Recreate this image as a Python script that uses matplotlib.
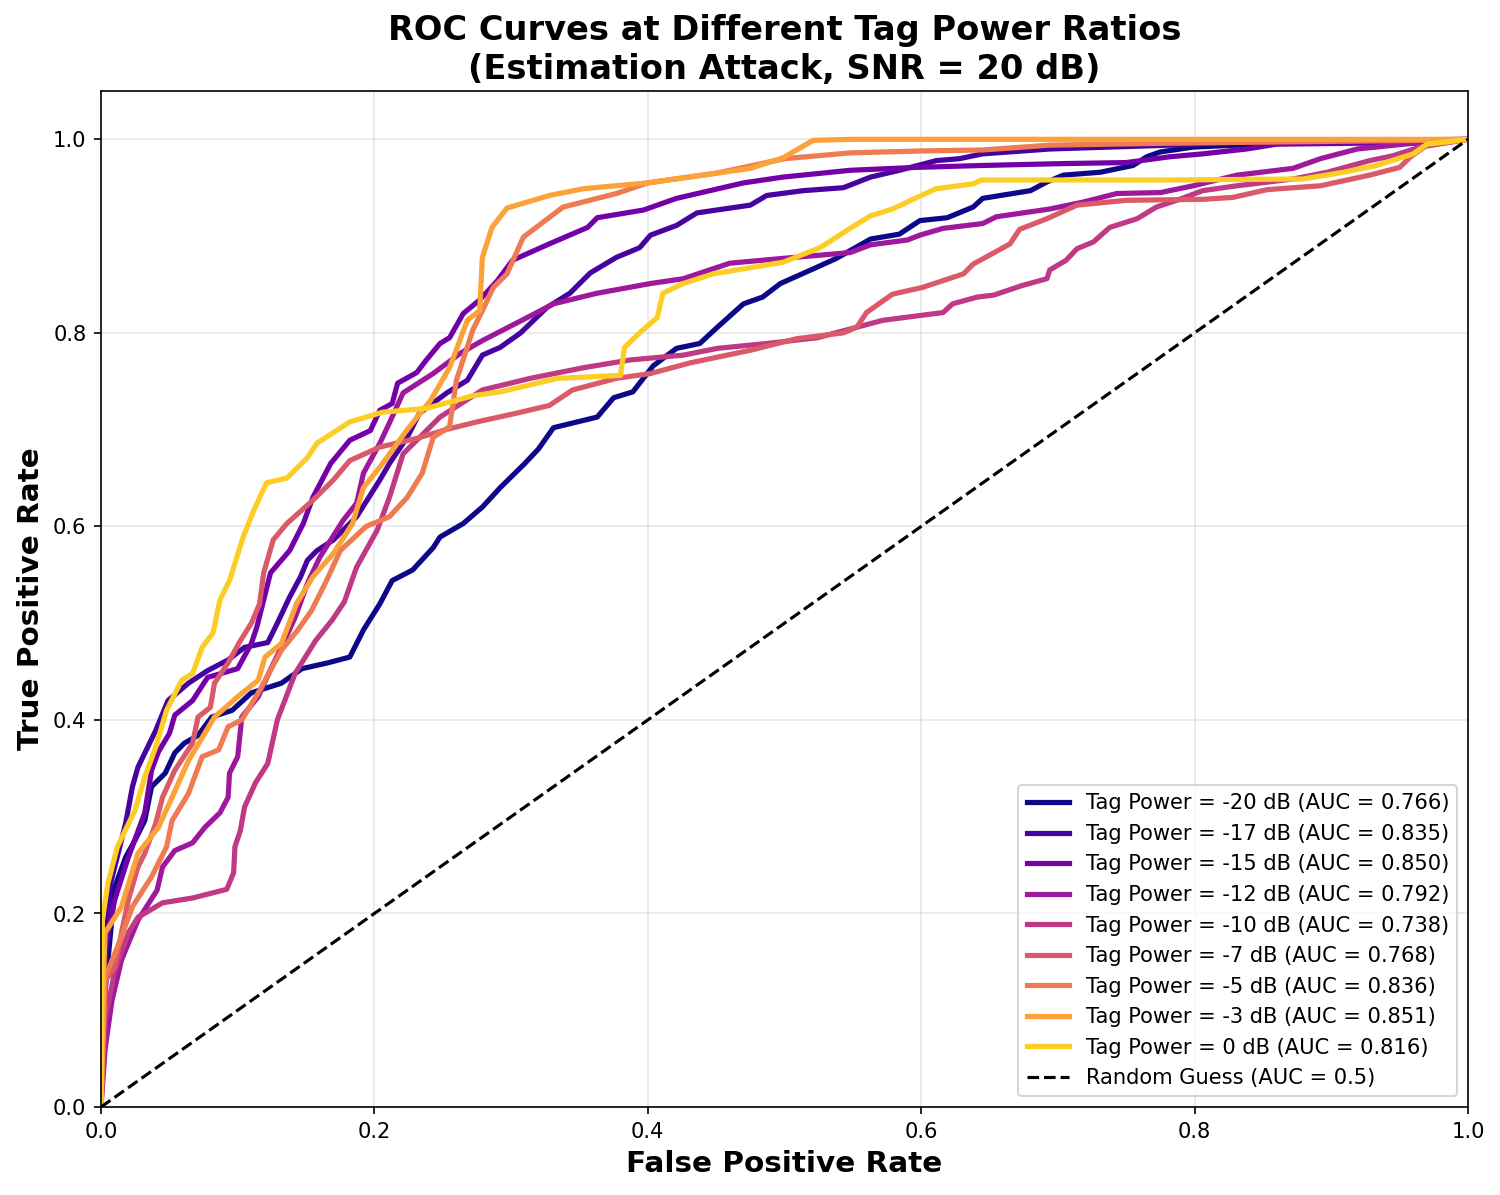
import numpy as np
import matplotlib
matplotlib.use('Agg')
import matplotlib.pyplot as plt

#tag power levels and auc from the legend
powers = [-20, -17, -15, -12, -10, -7, -5, -3, 0]
aucs = ['0.766', '0.835', '0.850', '0.792', '0.738', '0.768', '0.836', '0.851', '0.816']

#curves
fpr_m20 = [0,0.001,0.003,0.007,0.01,0.018,0.025,0.032,0.037,0.047,0.054,0.061,0.071,0.081,0.096,0.11,0.132,0.147,0.166,0.182,0.192,0.204,0.213,0.228,0.243,0.248,0.265,0.279,0.292,0.31,0.32,0.331,0.363,0.375,0.389,0.404,0.421,0.438,0.451,0.47,0.484,0.497,0.524,0.538,0.548,0.563,0.584,0.599,0.619,0.638,0.645,0.68,0.692,0.704,0.731,0.755,0.765,0.775,0.799,0.831,0.86,0.97,1]
tpr_m20 = [0,0.046,0.12,0.18,0.227,0.258,0.276,0.296,0.331,0.345,0.366,0.376,0.384,0.403,0.41,0.428,0.438,0.453,0.459,0.465,0.493,0.52,0.544,0.555,0.578,0.589,0.603,0.62,0.64,0.665,0.68,0.702,0.713,0.733,0.739,0.766,0.784,0.789,0.806,0.83,0.837,0.851,0.868,0.877,0.885,0.897,0.902,0.916,0.919,0.93,0.939,0.947,0.956,0.963,0.966,0.973,0.982,0.987,0.992,0.994,0.996,0.999,1]

fpr_m17 = [0,0.002,0.004,0.007,0.018,0.023,0.027,0.04,0.049,0.064,0.078,0.093,0.105,0.122,0.129,0.138,0.146,0.151,0.158,0.17,0.187,0.204,0.211,0.224,0.233,0.253,0.268,0.279,0.292,0.307,0.326,0.343,0.358,0.377,0.394,0.402,0.421,0.436,0.475,0.487,0.514,0.543,0.563,0.584,0.611,0.628,0.645,0.694,0.782,0.85,1]
tpr_m17 = [0,0.12,0.18,0.231,0.293,0.331,0.351,0.389,0.42,0.438,0.451,0.462,0.475,0.48,0.5,0.527,0.548,0.565,0.575,0.586,0.61,0.648,0.665,0.692,0.717,0.738,0.751,0.777,0.785,0.8,0.826,0.841,0.862,0.878,0.888,0.901,0.911,0.924,0.932,0.942,0.947,0.95,0.961,0.968,0.978,0.98,0.985,0.99,0.994,0.998,1]

fpr_m15 = [0,0.003,0.01,0.02,0.032,0.037,0.042,0.05,0.054,0.067,0.078,0.1,0.11,0.114,0.124,0.138,0.148,0.155,0.168,0.182,0.197,0.204,0.213,0.217,0.231,0.238,0.248,0.255,0.265,0.277,0.29,0.301,0.328,0.356,0.363,0.397,0.421,0.47,0.499,0.548,0.596,0.645,0.706,0.75,0.782,0.806,0.838,0.86,0.921,0.97,1]
tpr_m15 = [0,0.162,0.214,0.258,0.304,0.348,0.367,0.386,0.405,0.42,0.444,0.453,0.479,0.496,0.552,0.575,0.603,0.63,0.665,0.689,0.699,0.72,0.727,0.748,0.759,0.772,0.789,0.795,0.82,0.834,0.854,0.875,0.892,0.909,0.919,0.927,0.939,0.955,0.961,0.968,0.971,0.973,0.975,0.976,0.982,0.985,0.99,0.995,0.996,0.996,1]

fpr_m12 = [0,0.003,0.008,0.015,0.027,0.041,0.045,0.054,0.067,0.076,0.087,0.093,0.094,0.1,0.103,0.115,0.125,0.132,0.142,0.151,0.16,0.177,0.187,0.192,0.204,0.211,0.221,0.243,0.263,0.279,0.312,0.331,0.363,0.402,0.426,0.46,0.499,0.548,0.563,0.59,0.599,0.616,0.645,0.655,0.694,0.718,0.743,0.775,0.799,0.831,0.872,0.892,0.919,0.96,1]
tpr_m12 = [0,0.06,0.11,0.152,0.193,0.224,0.248,0.265,0.273,0.289,0.304,0.32,0.345,0.362,0.403,0.424,0.455,0.475,0.506,0.541,0.568,0.606,0.624,0.655,0.686,0.707,0.738,0.758,0.779,0.792,0.816,0.83,0.841,0.851,0.856,0.872,0.877,0.883,0.891,0.896,0.901,0.908,0.913,0.92,0.928,0.935,0.944,0.945,0.952,0.963,0.97,0.98,0.99,0.996,1]

fpr_m10 = [0,0.003,0.01,0.02,0.027,0.045,0.067,0.081,0.092,0.097,0.098,0.102,0.105,0.113,0.122,0.129,0.142,0.157,0.169,0.178,0.187,0.202,0.211,0.221,0.248,0.279,0.314,0.353,0.387,0.426,0.451,0.487,0.524,0.548,0.572,0.616,0.623,0.641,0.653,0.674,0.692,0.694,0.706,0.714,0.726,0.738,0.758,0.772,0.789,0.806,0.831,0.872,0.897,0.928,0.945,0.965,1]
tpr_m10 = [0,0.09,0.14,0.18,0.196,0.211,0.216,0.221,0.225,0.242,0.269,0.286,0.31,0.335,0.355,0.4,0.448,0.482,0.503,0.522,0.558,0.596,0.63,0.675,0.713,0.741,0.753,0.764,0.772,0.777,0.784,0.789,0.795,0.804,0.813,0.821,0.83,0.837,0.839,0.849,0.856,0.865,0.875,0.887,0.894,0.909,0.918,0.93,0.938,0.947,0.952,0.959,0.966,0.978,0.983,0.992,1]

fpr_m7 = [0,0.003,0.01,0.015,0.02,0.027,0.032,0.04,0.045,0.054,0.067,0.071,0.08,0.083,0.093,0.102,0.11,0.116,0.119,0.126,0.136,0.155,0.17,0.182,0.204,0.231,0.255,0.275,0.304,0.328,0.345,0.377,0.402,0.431,0.475,0.509,0.543,0.553,0.56,0.579,0.601,0.631,0.638,0.665,0.672,0.692,0.714,0.75,0.806,0.828,0.853,0.892,0.928,0.95,0.958,0.97,1]
tpr_m7 = [0,0.13,0.145,0.18,0.214,0.248,0.262,0.293,0.32,0.348,0.376,0.403,0.413,0.438,0.459,0.482,0.5,0.52,0.552,0.586,0.603,0.627,0.648,0.668,0.682,0.691,0.701,0.708,0.717,0.725,0.741,0.753,0.758,0.769,0.782,0.794,0.8,0.806,0.821,0.84,0.847,0.861,0.871,0.892,0.907,0.918,0.932,0.937,0.938,0.94,0.948,0.952,0.963,0.971,0.982,0.994,1]

fpr_m5 = [0,0.003,0.012,0.023,0.037,0.042,0.048,0.052,0.064,0.074,0.086,0.093,0.103,0.115,0.132,0.144,0.154,0.165,0.175,0.194,0.211,0.224,0.235,0.243,0.255,0.26,0.272,0.279,0.287,0.297,0.309,0.338,0.377,0.4,0.45,0.5,0.548,0.6,0.645,0.694,0.782,0.97,1]
tpr_m5 = [0,0.134,0.165,0.207,0.238,0.252,0.269,0.296,0.324,0.362,0.369,0.393,0.4,0.428,0.472,0.493,0.513,0.544,0.575,0.6,0.61,0.63,0.655,0.692,0.703,0.751,0.803,0.823,0.847,0.861,0.899,0.93,0.944,0.955,0.965,0.98,0.986,0.988,0.989,0.994,0.996,0.999,1]

fpr_m3 = [0,0.002,0.003,0.015,0.027,0.042,0.052,0.064,0.083,0.1,0.115,0.12,0.132,0.143,0.155,0.17,0.184,0.192,0.206,0.224,0.241,0.255,0.268,0.277,0.279,0.286,0.297,0.328,0.353,0.4,0.45,0.475,0.499,0.521,0.55,1]
tpr_m3 = [0,0.14,0.18,0.207,0.262,0.289,0.32,0.358,0.403,0.424,0.441,0.465,0.479,0.52,0.548,0.572,0.603,0.64,0.665,0.7,0.73,0.764,0.813,0.823,0.878,0.909,0.929,0.942,0.949,0.955,0.965,0.97,0.981,0.999,1,1]

fpr_0 = [0,0.001,0.005,0.012,0.025,0.032,0.04,0.048,0.059,0.067,0.074,0.082,0.087,0.094,0.104,0.111,0.121,0.136,0.151,0.158,0.182,0.206,0.238,0.272,0.292,0.334,0.38,0.383,0.394,0.407,0.411,0.426,0.448,0.499,0.526,0.548,0.563,0.579,0.597,0.611,0.638,0.644,0.782,0.879,0.909,0.933,0.96,0.97,1]
tpr_0 = [0,0.193,0.231,0.269,0.307,0.341,0.372,0.41,0.441,0.448,0.475,0.49,0.524,0.544,0.589,0.614,0.645,0.65,0.671,0.686,0.708,0.718,0.722,0.735,0.739,0.753,0.756,0.785,0.8,0.816,0.841,0.851,0.861,0.873,0.888,0.908,0.921,0.928,0.94,0.949,0.954,0.958,0.958,0.959,0.966,0.973,0.985,0.995,1]

fprs = [fpr_m20, fpr_m17, fpr_m15, fpr_m12, fpr_m10, fpr_m7, fpr_m5, fpr_m3, fpr_0]
tprs = [tpr_m20, tpr_m17, tpr_m15, tpr_m12, tpr_m10, tpr_m7, tpr_m5, tpr_m3, tpr_0]

colors = plt.cm.plasma(np.linspace(0, 0.9, len(powers)))

fig, ax = plt.subplots(figsize=(10, 7.967), dpi=150)

for i in range(len(powers)):
    ax.plot(fprs[i], tprs[i], color=colors[i], lw=2.5,
            label=f'Tag Power = {powers[i]} dB (AUC = {aucs[i]})')
ax.plot([0, 1], [0, 1], 'k--', lw=1.5, label='Random Guess (AUC = 0.5)')

ax.set_xlim(0, 1)
ax.set_ylim(0, 1.05)
ax.tick_params(labelsize=10.1)
ax.set_xlabel('False Positive Rate', fontsize=14.15, fontweight='bold')
ax.set_ylabel('True Positive Rate', fontsize=14.15, fontweight='bold')
ax.set_title('ROC Curves at Different Tag Power Ratios\n(Estimation Attack, SNR = 20 dB)',
             fontsize=16.15, fontweight='bold')
ax.legend(loc='lower right', fontsize=10.1)
ax.grid(True, alpha=0.3)

fig.subplots_adjust(left=101/1500, right=1468/1500, top=1-91/1195, bottom=1-1107/1195)
plt.savefig('out.png', dpi=150)
